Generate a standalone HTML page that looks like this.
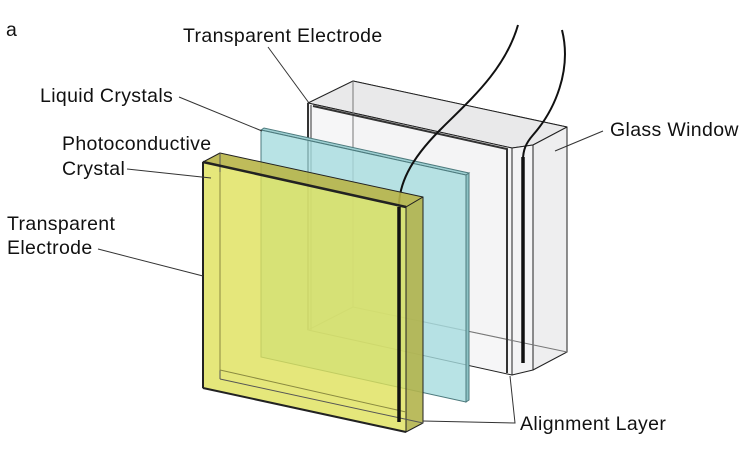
<!DOCTYPE html>
<html><head><meta charset="utf-8"><style>
html,body{margin:0;padding:0;background:#fff;}
svg{display:block;}
text{font-family:"Liberation Sans",Arial,sans-serif;font-size:19.5px;letter-spacing:0.35px;fill:#111;}
</style></head><body>
<svg width="750" height="459" viewBox="0 0 750 459" xmlns="http://www.w3.org/2000/svg">
<g stroke="#222" stroke-width="1" stroke-linejoin="round">
  <polygon points="353,81 567,127 567,352 353,307" fill="#f1f1f2"/>
  <polygon points="308,103 353,81 567,127 533,145 512,148" fill="#e9e9ea"/>
  <polygon points="533,145 567,127 567,352 533,370" fill="#eeeeef"/>
  <polygon points="512,148 533,145 533,370 512,375" fill="#f4f4f5"/>
  <polygon points="308,103 512,148 512,375 308,330" fill="#f5f5f6" fill-opacity="0.85"/>
  <line x1="353" y1="81" x2="353" y2="307" stroke="#777"/>
  <line x1="353" y1="307" x2="567" y2="352" stroke="#777"/>
  <line x1="308" y1="330" x2="353" y2="307" stroke="#777"/>
</g>
<g fill="none" stroke="#333">
  <polyline points="313,106 507,149 507,373" stroke-width="2"/>
  <line x1="308" y1="103" x2="308" y2="330" stroke-width="2"/>
  <line x1="311" y1="105" x2="311" y2="330" stroke-width="1"/>
</g>
<path d="M562,30 C572,70 555,110 533,135 C526,143 523,150 523,160" fill="none" stroke="#111" stroke-width="2"/>
<line x1="523" y1="157" x2="523" y2="363" stroke="#111" stroke-width="3.5"/>

<g stroke="#4d7a7d" stroke-width="1">
  <polygon points="261,130 264,128 469,173 466,175" fill="#9fd0d3"/>
  <polygon points="466,175 469,173 469,400 466,402" fill="#8cc1c4"/>
  <polygon points="261,130 466,175 466,402 261,357" fill="#a6dcdf" fill-opacity="0.8"/>
</g>

<path d="M518,25 C505,70 470,100 440,130 C410,160 398,185 399,210" fill="none" stroke="#111" stroke-width="2"/>

<g stroke="#222" stroke-width="1" stroke-linejoin="round">
  <polygon points="203,162 220,153 423,197 406,207" fill="#b8b548" fill-opacity="0.9"/>
  <polygon points="406,207 423,197 423,423 406,432" fill="#b3b44c" fill-opacity="0.9"/>
  <polygon points="203,162 406,207 406,432 203,388" fill="#dfe15a" fill-opacity="0.8"/>
  <polyline points="220,153 220,379" fill="none" stroke="#555"/>
  <polyline points="220,379 423,423" fill="none" stroke="#555"/>
  <polyline points="220,172 220,370 406,412" fill="none" stroke="#8a8a40"/>
  <line x1="203" y1="162" x2="406" y2="207" stroke-width="2.5"/>
  <line x1="203" y1="388" x2="406" y2="432" stroke-width="2"/>
  <line x1="203" y1="162" x2="203" y2="388" stroke-width="2"/>
</g>
<line x1="399" y1="207" x2="399" y2="422" stroke="#111" stroke-width="3.5"/>

<g stroke="#333" stroke-width="1" fill="none">
  <line x1="268" y1="47" x2="309" y2="103"/>
  <line x1="179" y1="97" x2="262" y2="131"/>
  <line x1="127" y1="169" x2="211" y2="178"/>
  <line x1="98" y1="249" x2="203" y2="276"/>
  <line x1="603" y1="131" x2="555" y2="151"/>
  <polyline points="510,376 515,423 423,421"/>
</g>

<text x="6" y="36">a</text>
<text x="183" y="42">Transparent Electrode</text>
<text x="40" y="102">Liquid Crystals</text>
<text x="62" y="150">Photoconductive</text>
<text x="62" y="175">Crystal</text>
<text x="7" y="230">Transparent</text>
<text x="7" y="254">Electrode</text>
<text x="610" y="136">Glass Window</text>
<text x="520" y="430">Alignment Layer</text>
</svg>
</body></html>
